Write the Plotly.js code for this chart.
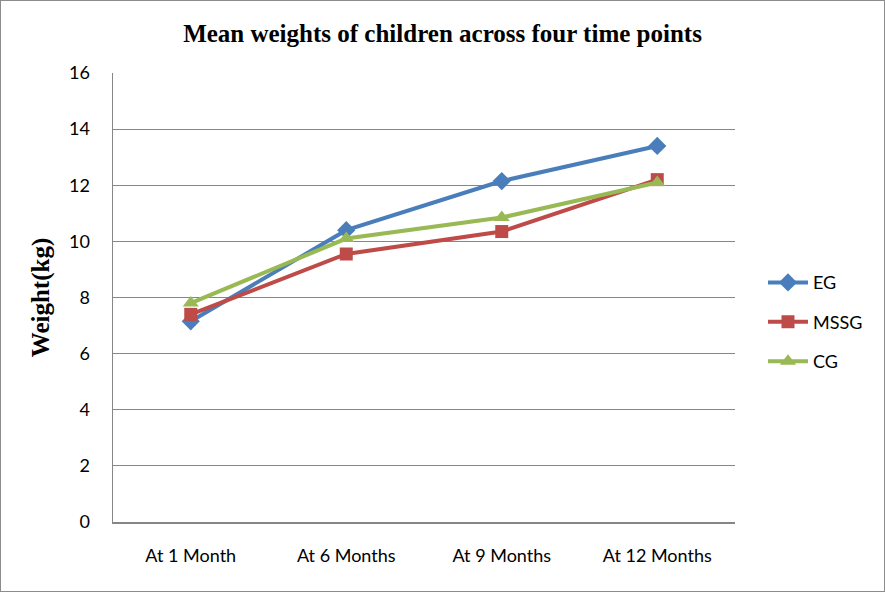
<!DOCTYPE html>
<html>
<head>
<meta charset="utf-8">
<script src="https://cdn.plot.ly/plotly-3.0.1.min.js"></script>
<style>
  html, body { margin: 0; padding: 0; background: #fff; }
  #frame { width: 885px; height: 592px; box-sizing: border-box; border: 1px solid #8c8c8c; }
  #chart { width: 883px; height: 590px; }
</style>
</head>
<body>
<div id="frame"><div id="chart"></div></div>
<script>
// Time points and mean weights (kg) per group
const timePoints = ["At 1 Month", "At 6 Months", "At 9 Months", "At 12 Months"];
const egWeights   = [7.15, 10.4, 12.15, 13.4];
const mssgWeights = [7.4, 9.55, 10.35, 12.2];
const cgWeights   = [7.8, 10.1, 10.85, 12.1];
const yTicks = [0, 2, 4, 6, 8, 10, 12, 14, 16];

const series = [
  { name: "EG",   y: egWeights,   color: "#4A7EBB", symbol: "diamond",     size: 14 },
  { name: "MSSG", y: mssgWeights, color: "#BE4B48", symbol: "square",      size: 13 },
  { name: "CG",   y: cgWeights,   color: "#98B954", symbol: "triangle-up", size: 14 }
];

const traces = series.map(s => ({
  type: "scatter",
  mode: "lines+markers",
  name: s.name,
  legendgroup: s.name,
  x: timePoints,
  y: s.y,
  line: { color: s.color, width: 4 },
  marker: { color: s.color, symbol: s.symbol, size: s.size, line: { width: 0 } },
  cliponaxis: false
}));

const tickFont = { family: "Lato, Open Sans, sans-serif", size: 18, color: "#000" };
const serifBold = { family: "Liberation Serif, Times New Roman, serif", size: 25, color: "#000" };

const layout = {
  width: 883,
  height: 590,
  margin: { l: 112, r: 149, t: 72, b: 69 },
  paper_bgcolor: "#ffffff",
  plot_bgcolor: "#ffffff",
  showlegend: true,
  title: {
    text: "<b>Mean weights of children across four time points</b>",
    font: serifBold,
    x: 0.5, xanchor: "center", y: 0.945, yanchor: "middle"
  },
  xaxis: {
    type: "category",
    range: [-0.5, 3.5],
    showgrid: false,
    showline: true,
    linecolor: "#868686",
    linewidth: 1.5,
    ticks: "",
    tickfont: tickFont,
    ticklabelstandoff: 17,
    zeroline: false,
    fixedrange: true
  },
  yaxis: {
    range: [0, 16],
    tickvals: yTicks,
    ticktext: yTicks.map(String),
    showgrid: true,
    gridcolor: "#868686",
    gridwidth: 1,
    showline: true,
    linecolor: "#868686",
    linewidth: 1.5,
    ticks: "",
    tickfont: tickFont,
    ticklabelstandoff: 18,
    zeroline: false,
    title: {
      text: "<b>Weight(kg)</b>",
      font: serifBold,
      standoff: 12
    },
    fixedrange: true
  },
  legend: {
    x: 1.045, xanchor: "left",
    y: 0.445, yanchor: "middle",
    font: tickFont,
    itemwidth: 40,
    tracegroupgap: 13,
    bgcolor: "rgba(0,0,0,0)"
  }
};

Plotly.newPlot("chart", traces, layout, { displayModeBar: false, staticPlot: true });
</script>
</body>
</html>
